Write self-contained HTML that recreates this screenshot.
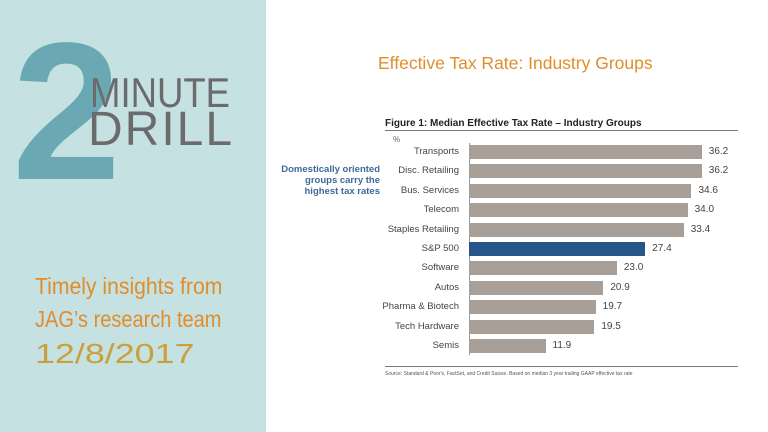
<!DOCTYPE html><html><head><style>
body{margin:0;width:768px;height:432px;position:relative;overflow:hidden;background:#fff;font-family:"Liberation Sans",sans-serif}
.l{position:absolute;left:0;top:0;width:266px;height:432px;background:#c6e1e2}
.a{position:absolute;white-space:nowrap;transform-origin:0 0}
.lab{position:absolute;right:309px;font-size:9.5px;color:#444;white-space:nowrap}
.bar{position:absolute;left:469px;height:14px;background:#a89f98}
.v{position:absolute;font-size:10px;color:#444}
</style></head><body>
<div class="l"></div>
<div class="a" style="left:12px;top:14px;font-size:196px;font-weight:bold;color:#6aa9b3;line-height:196px;letter-spacing:-5px">2</div>
<div class="a" style="left:90px;top:72px;font-size:42px;color:#6b6b6d;line-height:42px;transform:scaleX(0.87)">MINUTE</div>
<div class="a" style="left:88px;top:106px;font-size:48px;color:#6b6b6d;line-height:48px;letter-spacing:2px">DRILL</div>
<div class="a" style="left:35px;top:273px;font-size:23px;color:#e08d2c;transform:scaleX(0.92)">Timely insights from</div>
<div class="a" style="left:35px;top:306px;font-size:23px;color:#e08d2c;transform:scaleX(0.87)">JAG’s research team</div>
<div class="a" style="left:35px;top:338px;font-size:28px;color:#c9a03a;transform:scaleX(1.28)">12/8/2017</div>
<div class="a" style="left:378px;top:53px;font-size:17.5px;color:#e08d2c">Effective Tax Rate: Industry Groups</div>
<div class="a" style="left:385px;top:118px;font-size:10px;font-weight:bold;color:#222">Figure 1: Median Effective Tax Rate – Industry Groups</div>
<div class="a" style="left:385px;top:130px;width:353px;height:1px;background:#777"></div>
<div class="a" style="left:393px;top:135px;font-size:8px;color:#666">%</div>
<div class="a" style="left:270px;top:164px;width:110px;text-align:right;font-size:9.5px;font-weight:bold;color:#3d6a9a;line-height:11px;white-space:normal">Domestically oriented groups carry the highest tax rates</div>
<div class="a" style="left:469px;top:143px;width:1px;height:212px;background:#999"></div>
<div class="a" style="left:385px;top:366px;width:353px;height:1px;background:#777"></div>
<div class="a" style="left:385px;top:371px;font-size:5px;color:#555">Source: Standard &amp; Poor's, FactSet, and Credit Suisse. Based on median 3 year trailing GAAP effective tax rate</div>
<div id="c"></div>
<script>
var d=[["Transports",36.2],["Disc. Retailing",36.2],["Bus. Services",34.6],["Telecom",34.0],["Staples Retailing",33.4],["S&P 500",27.4],["Software",23.0],["Autos",20.9],["Pharma & Biotech",19.7],["Tech Hardware",19.5],["Semis",11.9]];
var h="";d.forEach(function(r,i){var y=152+i*19.4,w=r[1]*6.43;
h+='<div class="lab" style="top:'+(y-6)+'px">'+r[0].replace("&","&amp;")+'</div>';
h+='<div class="bar" style="top:'+(y-7)+'px;width:'+w+'px;'+(i==5?'background:#27558a':'')+'"></div>';
h+='<div class="v" style="left:'+(469+w+7)+'px;top:'+(y-6)+'px">'+r[1].toFixed(1)+'</div>';});
document.getElementById("c").innerHTML=h;
</script>
</body></html>
